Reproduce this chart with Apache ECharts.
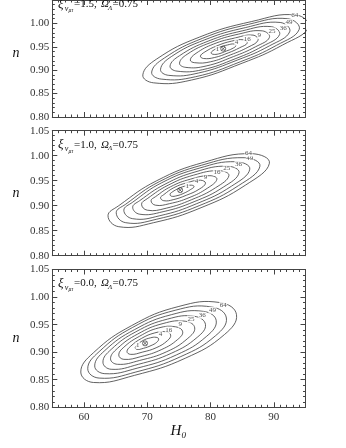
<!DOCTYPE html>
<html><head><meta charset="utf-8">
<script src="https://cdn.jsdelivr.net/npm/echarts@6/dist/echarts.min.js"></script>
<style>html,body{margin:0;padding:0;background:#fff}#c{width:346px;height:448px}</style>
</head><body><div id="c"></div>
<script>
// ---- data ----
const levels = ['1','4','9','16','25','36','49','64'];
const xiValues = ['1.5','1.0','0.0'];
const omegaLambda = '0.75';
const xTickMajor = [60,70,80,90];
const xTickMinor = [56,57,58,59,61,62,63,64,65,66,67,68,69,71,72,73,74,75,76,77,78,79,81,82,83,84,85,86,87,88,89,91,92,93,94];
const yTickLabels = [0.80,0.85,0.90,0.95,1.00,1.05];

const bestFit1 = [82.0, 0.946];
const bestFit2 = [75.2, 0.931];
const bestFit3 = [69.65, 0.916];

// contours (levels 1..64), points [H0, n]
const contours1 = [
 [[80.1,0.937],[80.4,0.934],[81.3,0.935],[82.5,0.941],[83.4,0.946],[84.0,0.952],[83.7,0.956],[82.7,0.954],[81.4,0.949],[80.4,0.942]],
 [[78.4,0.930],[78.9,0.925],[80.6,0.927],[82.8,0.937],[84.6,0.948],[85.8,0.958],[85.2,0.965],[83.3,0.962],[81.0,0.952],[79.1,0.939]],
 [[76.8,0.922],[77.5,0.916],[80.0,0.918],[83.2,0.933],[85.9,0.949],[87.5,0.964],[86.7,0.975],[83.9,0.969],[80.5,0.956],[77.7,0.936]],
 [[75.1,0.915],[76.1,0.906],[79.3,0.909],[83.6,0.929],[87.1,0.950],[89.3,0.970],[88.2,0.984],[84.4,0.977],[80.0,0.959],[76.3,0.934]],
 [[73.6,0.909],[74.7,0.898],[78.7,0.901],[84.0,0.925],[88.2,0.951],[90.9,0.976],[89.6,0.993],[85.0,0.984],[79.6,0.962],[75.1,0.931]],
 [[72.1,0.902],[73.4,0.889],[78.1,0.894],[84.3,0.922],[89.3,0.952],[92.5,0.982],[91.0,1.002],[85.5,0.991],[79.1,0.965],[73.8,0.929]],
 [[70.7,0.896],[72.2,0.881],[77.6,0.886],[84.7,0.918],[90.4,0.953],[94.0,0.987],[92.2,1.010],[86.0,0.998],[78.7,0.968],[72.7,0.926]],
 [[69.3,0.890],[71.0,0.873],[77.0,0.879],[85.0,0.915],[91.4,0.954],[95.5,0.992],[93.5,1.018],[86.5,1.004],[78.3,0.971],[71.5,0.924]]
];
const contours2 = [
 [[73.6,0.923],[73.8,0.919],[74.7,0.920],[75.8,0.925],[76.8,0.932],[77.4,0.938],[77.0,0.941],[75.9,0.939],[74.7,0.933],[73.8,0.926]],
 [[72.1,0.916],[72.6,0.910],[74.1,0.912],[76.2,0.921],[78.2,0.933],[79.2,0.945],[78.4,0.951],[76.3,0.946],[74.2,0.936],[72.6,0.922]],
 [[70.6,0.910],[71.3,0.901],[73.5,0.904],[76.6,0.916],[79.5,0.935],[81.0,0.953],[79.9,0.960],[76.8,0.953],[73.7,0.938],[71.3,0.918]],
 [[69.1,0.903],[70.0,0.891],[73.0,0.895],[77.0,0.912],[80.8,0.936],[82.9,0.960],[81.4,0.970],[77.3,0.961],[73.3,0.941],[70.0,0.914]],
 [[67.7,0.897],[68.8,0.883],[72.5,0.888],[77.4,0.908],[82.0,0.937],[84.5,0.966],[82.7,0.979],[77.7,0.968],[72.8,0.943],[68.8,0.910]],
 [[66.3,0.891],[67.7,0.874],[72.0,0.880],[77.8,0.904],[83.3,0.939],[86.2,0.973],[84.0,0.988],[78.2,0.975],[72.3,0.946],[67.7,0.907]],
 [[65.1,0.886],[66.6,0.866],[71.5,0.873],[78.2,0.900],[84.4,0.940],[87.8,0.979],[85.3,0.996],[78.6,0.981],[71.9,0.948],[66.6,0.903]],
 [[63.8,0.880],[65.5,0.858],[71.0,0.866],[78.5,0.896],[85.5,0.941],[89.3,0.985],[86.5,1.004],[79.0,0.987],[71.5,0.950],[65.5,0.900]]
];
const contours3 = [
 [[68.1,0.908],[68.4,0.905],[69.4,0.907],[70.6,0.912],[71.5,0.918],[71.8,0.924],[71.4,0.927],[70.5,0.926],[69.3,0.921],[68.4,0.913]],
 [[66.8,0.901],[67.4,0.896],[69.2,0.900],[71.4,0.908],[73.2,0.921],[73.7,0.931],[73.0,0.937],[71.2,0.935],[69.1,0.925],[67.4,0.911]],
 [[65.5,0.895],[66.3,0.887],[69.0,0.892],[72.3,0.905],[74.8,0.923],[75.6,0.937],[74.5,0.946],[71.8,0.944],[68.8,0.929],[66.3,0.909]],
 [[64.2,0.888],[65.3,0.878],[68.8,0.885],[73.1,0.901],[76.4,0.925],[77.5,0.944],[76.1,0.956],[72.5,0.952],[68.5,0.933],[65.3,0.907]],
 [[63.0,0.882],[64.3,0.869],[68.6,0.878],[73.8,0.898],[77.9,0.927],[79.2,0.950],[77.5,0.965],[73.2,0.960],[68.2,0.937],[64.3,0.905]],
 [[61.7,0.875],[63.3,0.861],[68.4,0.871],[74.6,0.895],[79.4,0.929],[80.9,0.957],[78.9,0.974],[73.8,0.968],[68.0,0.941],[63.3,0.903]],
 [[60.6,0.870],[62.4,0.853],[68.2,0.864],[75.3,0.892],[80.8,0.930],[82.5,0.962],[80.2,0.982],[74.4,0.976],[67.7,0.945],[62.4,0.901]],
 [[59.5,0.864],[61.5,0.845],[68.0,0.858],[76.0,0.889],[82.2,0.932],[84.1,0.968],[81.5,0.990],[75.0,0.983],[67.5,0.948],[61.5,0.899]]
];
// contour label positions (levels 1..64)
const labelPos1 = [[81.1,0.944],[84.1,0.960],[87.7,0.974],[85.8,0.967],[89.7,0.984],[91.5,0.990],[92.4,1.002],[93.3,1.018]];
const labelPos2 = [[76.3,0.940],[77.8,0.949],[79.2,0.958],[81.0,0.967],[82.55,0.975],[84.4,0.983],[86.2,0.995],[86.0,1.005]];
const labelPos3 = [[68.5,0.912],[72.1,0.933],[75.2,0.951],[73.4,0.940],[76.9,0.960],[78.7,0.967],[80.3,0.976],[82.0,0.986]];

// ---- chart ----
const contours = [contours1, contours2, contours3];
const labelPos = [labelPos1, labelPos2, labelPos3];
const bestFits = [bestFit1, bestFit2, bestFit3];
const SERIF = '"Liberation Serif","DejaVu Serif",serif';
const INK = '#333';
const grids = [
  {left: 52.3, width: 253.2, top: -9.5, height: 126.5},
  {left: 52.3, width: 253.2, top: 130.7, height: 125},
  {left: 52.3, width: 253.2, top: 269.5, height: 137.8}
];
const lineSt = {color: '#444', width: 1};
const xAxes = [], yAxes = [], series = [], graphic = [];
grids.forEach((g, gi) => {
  const base = {type: 'value', gridIndex: gi, min: 55, max: 95, splitLine: {show: false}};
  xAxes.push(Object.assign({}, base, {position: 'bottom',
    axisLine: {show: true, onZero: false, lineStyle: lineSt},
    axisTick: {show: true, inside: true, length: 2.5, customValues: xTickMinor, lineStyle: lineSt},
    axisLabel: {show: gi === 2, customValues: xTickMajor, margin: 4, fontFamily: SERIF, fontSize: 11, color: INK}}));
  xAxes.push(Object.assign({}, base, {position: 'bottom',
    axisLine: {show: false, onZero: false},
    axisTick: {show: true, inside: true, length: 5, customValues: xTickMajor, lineStyle: lineSt},
    axisLabel: {show: false}}));
  xAxes.push(Object.assign({}, base, {position: 'top',
    axisLine: {show: true, onZero: false, lineStyle: lineSt},
    axisTick: {show: true, inside: true, length: 2.5, customValues: xTickMinor, lineStyle: lineSt},
    axisLabel: {show: false}}));
  xAxes.push(Object.assign({}, base, {position: 'top',
    axisLine: {show: false, onZero: false},
    axisTick: {show: true, inside: true, length: 5, customValues: xTickMajor, lineStyle: lineSt},
    axisLabel: {show: false}}));
  const ybase = {type: 'value', gridIndex: gi, min: 0.80, max: 1.05, interval: 0.05, splitLine: {show: false},
    axisLine: {show: true, onZero: false, lineStyle: lineSt},
    axisTick: {show: true, inside: true, length: 5, lineStyle: lineSt},
    minorTick: {show: true, splitNumber: 5, length: 2.5, lineStyle: lineSt}};
  yAxes.push(Object.assign({}, ybase, {position: 'left',
    axisLabel: {show: true, margin: 3, fontFamily: SERIF, fontSize: 11, color: INK,
      formatter: v => (gi === 0 && v > 1.02) ? '' : v.toFixed(2)}}));
  yAxes.push(Object.assign({}, ybase, {position: 'right', axisLabel: {show: false}}));

  series.push({
    type: 'custom', xAxisIndex: gi * 4, yAxisIndex: gi * 2, clip: true, z: 2,
    data: levels.map((l, i) => [i]),
    renderItem: (params, api) => {
      const pts = contours[gi][params.dataIndex].map(p => api.coord(p));
      return {type: 'polygon', shape: {points: pts, smooth: 0.45},
        style: {fill: 'none', stroke: '#3a3a3a', lineWidth: 0.8}};
    }
  });
  series.push({
    type: 'scatter', xAxisIndex: gi * 4, yAxisIndex: gi * 2, z: 4, symbolSize: 1,
    itemStyle: {color: 'transparent'},
    data: labelPos[gi].map((p, i) => [p[0], p[1], levels[i]]),
    label: {show: true, position: 'inside', formatter: p => p.value[2],
      fontFamily: SERIF, fontSize: 7, color: '#222', backgroundColor: '#fff', padding: [0, 0.5]}
  });
  series.push({
    type: 'scatter', xAxisIndex: gi * 4, yAxisIndex: gi * 2, z: 5, symbolSize: 5,
    symbol: 'path://M0,5A5,5 0 1,0 10,5A5,5 0 1,0 0,5ZM1.5,1.5L8.5,8.5M8.5,1.5L1.5,8.5',
    itemStyle: {color: 'transparent', borderColor: '#222', borderWidth: 0.8},
    data: [bestFits[gi]]
  });

  // panel annotation
  const cy = g.top + 14;
  const it = s => 'italic ' + s + 'px ' + SERIF;
  const rm = s => s + 'px ' + SERIF;
  [
    ['\u03be', 58, cy, it(13)],
    ['\u03bd', 64.8, cy + 4.5, it(8)],
    ['\u03bc\u03c4', 68.5, cy + 6.5, it(5.5)],
    ['=' + xiValues[gi] + ',', 74, cy, rm(11)],
    ['\u03a9', 101, cy, it(11)],
    ['\u039b', 108, cy + 3.5, it(7)],
    ['=' + omegaLambda, 112.5, cy, rm(11)]
  ].forEach(t => graphic.push({type: 'text', z: 10, style: {text: t[0], x: t[1], y: t[2], font: t[3], fill: '#111', align: 'left', verticalAlign: 'middle'}}));
  graphic.push({type: 'text', z: 10, style: {text: 'n', x: 16, y: g.top + g.height / 2, font: it(14), fill: '#111', align: 'center', verticalAlign: 'middle'}});
});
graphic.push({type: 'text', z: 10, style: {text: 'H', x: 176, y: 431, font: 'italic 15px ' + SERIF, fill: '#111', align: 'center', verticalAlign: 'middle'}});
graphic.push({type: 'text', z: 10, style: {text: '0', x: 181.5, y: 436, font: 'italic 9px ' + SERIF, fill: '#111', align: 'left', verticalAlign: 'middle'}});

const chart = echarts.init(document.getElementById('c'), null, {renderer: 'canvas'});
chart.setOption({
  animation: false,
  backgroundColor: '#fff',
  grid: grids,
  xAxis: xAxes,
  yAxis: yAxes,
  series: series,
  graphic: graphic
});
</script>
</body></html>
